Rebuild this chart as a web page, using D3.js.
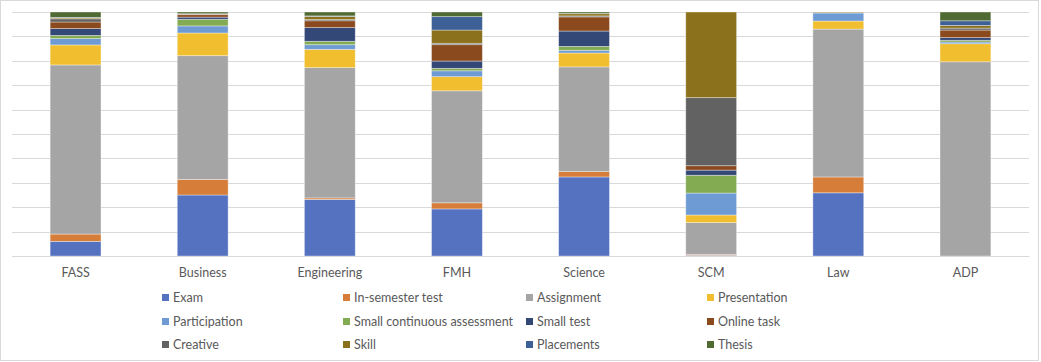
<!DOCTYPE html>
<html>
<head>
<meta charset="utf-8">
<script src="https://cdn.jsdelivr.net/npm/d3@7"></script>
<style>
  body { margin: 0; background: #fff; }
  svg { display: block; }
</style>
</head>
<body>
<div id="chart"></div>
<script>
var svgWidth = 1041;
var svgHeight = 362;

// categories and series (percent of assessment per faculty)
var categories = ["FASS", "Business", "Engineering", "FMH", "Science", "SCM", "Law", "ADP"];
var seriesNames = ["Exam", "In-semester test", "Assignment", "Presentation", "Participation",
  "Small continuous assessment", "Small test", "Online task", "Creative", "Skill", "Placements", "Thesis"];
var colors = ["#5572c0", "#d67d3a", "#a5a5a5", "#f0be2f", "#6f9bd4", "#83ac52",
  "#344878", "#8b4a1e", "#626262", "#8b711b", "#3d6096", "#4f6a32"];

var exam          = [6.0, 25.0, 23.2, 19.3, 32.4, 0.3, 25.9, 0];
var inSemester    = [3.0, 6.4, 0.6, 2.5, 2.2, 0.4, 6.5, 0];
var assignment    = [69.3, 50.7, 53.4, 45.9, 42.9, 13.0, 60.6, 79.6];
var presentation  = [8.2, 9.3, 7.5, 5.8, 5.7, 3.1, 3.3, 7.4];
var participation = [2.6, 2.9, 1.9, 2.4, 1.1, 9.0, 3.3, 0.7];
var smallCont     = [1.3, 2.7, 1.4, 1.0, 1.6, 7.3, 0, 0.7];
var smallTest     = [2.8, 0.9, 5.6, 3.0, 6.3, 2.1, 0, 1.1];
var onlineTask    = [2.7, 1.0, 2.8, 6.7, 5.8, 1.8, 0.2, 3.1];
var creative      = [1.3, 0.2, 0.5, 0.6, 0.4, 27.9, 0, 0.8];
var skill         = [0.4, 0.2, 1.3, 5.4, 0.9, 35.1, 0.2, 1.1];
var placements    = [0.2, 0, 0.2, 5.5, 0.1, 0, 0, 1.9];
var thesis        = [2.2, 0.7, 1.6, 1.9, 0.6, 0, 0, 3.6];

var seriesValues = [exam, inSemester, assignment, presentation, participation, smallCont,
  smallTest, onlineTask, creative, skill, placements, thesis];

// build table for d3.stack
var table = categories.map(function(c, i) {
  var row = { category: c };
  seriesNames.forEach(function(s, j) { row[s] = seriesValues[j][i]; });
  return row;
});

var plot = { left: 12, right: 1029, top: 12, bottom: 256 };

var svg = d3.select("#chart")
  .append("svg")
  .attr("width", svgWidth)
  .attr("height", svgHeight)
  .style("font-family", "Lato, 'Open Sans', sans-serif");

// chart border
svg.append("rect")
  .attr("x", 0.5).attr("y", 0.5)
  .attr("width", svgWidth - 3).attr("height", svgHeight - 2)
  .attr("fill", "#fff")
  .attr("stroke", "#d9d9d9");

var x = d3.scaleBand()
  .domain(categories)
  .range([plot.left, plot.right])
  .paddingInner(0.6)
  .paddingOuter(0.3);

var y = d3.scaleLinear()
  .domain([0, 100])
  .range([plot.bottom, plot.top]);

// gridlines
svg.append("g")
  .selectAll("line")
  .data(y.ticks(10))
  .enter()
  .append("line")
  .attr("x1", plot.left)
  .attr("x2", plot.right)
  .attr("y1", d => Math.round(y(d)) + 0.5)
  .attr("y2", d => Math.round(y(d)) + 0.5)
  .attr("stroke", "#d9d9d9")
  .attr("stroke-width", 1);

var stacked = d3.stack().keys(seriesNames)(table);

var groups = svg.append("g")
  .selectAll("g.series")
  .data(stacked)
  .enter()
  .append("g")
  .attr("fill", (d, i) => colors[i]);

groups.selectAll("rect")
  .data(d => d.filter(p => p[1] - p[0] > 0))
  .enter()
  .append("rect")
  .attr("x", d => x(d.data.category))
  .attr("width", x.bandwidth())
  .attr("y", d => y(d[1]))
  .attr("height", d => y(d[0]) - y(d[1]))
  .attr("stroke", "rgba(255,255,255,0.45)")
  .attr("stroke-width", 0.8);

// category axis
var bottomAxis = d3.axisBottom(x).tickSize(0).tickPadding(12);
var axisG = svg.append("g")
  .attr("transform", `translate(0, ${plot.bottom})`)
  .call(bottomAxis);
axisG.select(".domain").attr("stroke", "#d9d9d9");
axisG.selectAll("text")
  .style("font-size", "12.5px")
  .style("font-family", "Lato, 'Open Sans', sans-serif")
  .attr("fill", "#595959");

// legend
var legendCols = [162, 343, 526, 707];
var legendRows = [298, 322, 345];

var legend = svg.append("g")
  .selectAll("g.legend")
  .data(seriesNames)
  .enter()
  .append("g")
  .attr("transform", (d, i) => `translate(${legendCols[i % 4]}, ${legendRows[Math.floor(i / 4)]})`);

legend.append("rect")
  .attr("x", 0).attr("y", -4)
  .attr("width", 7).attr("height", 7)
  .attr("fill", (d, i) => colors[i]);

legend.append("text")
  .attr("x", 11)
  .attr("y", 0)
  .attr("dy", "0.35em")
  .style("font-size", "12.5px")
  .attr("fill", "#595959")
  .text(d => d);
</script>
</body>
</html>
